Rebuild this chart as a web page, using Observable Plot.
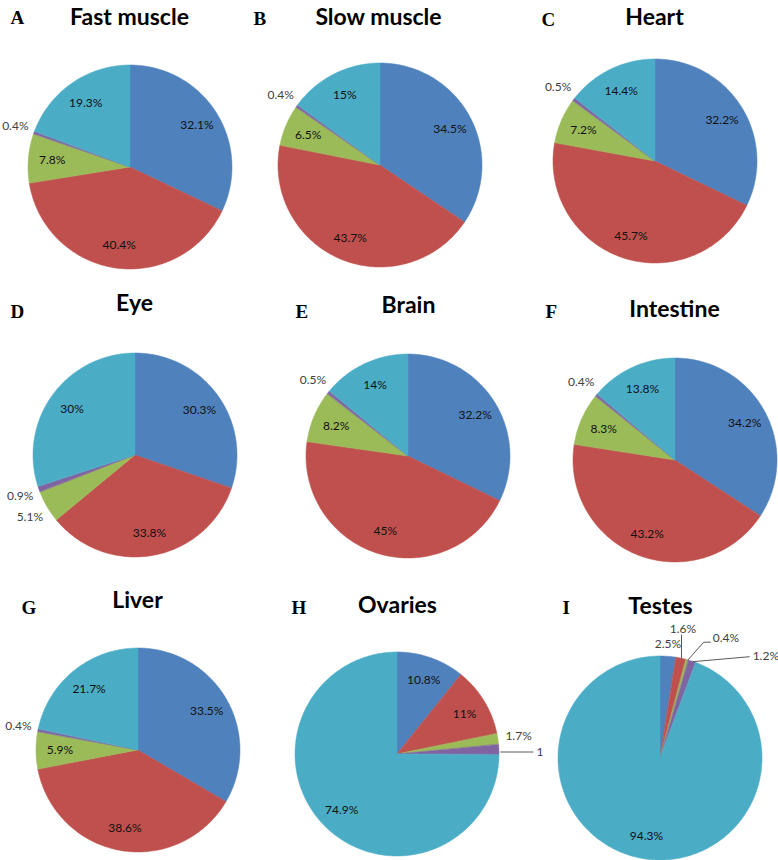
<!DOCTYPE html>
<html><head><meta charset="utf-8">
<script src="https://cdn.jsdelivr.net/npm/d3@7"></script>
<script src="https://cdn.jsdelivr.net/npm/@observablehq/plot@0.6"></script>
<style>
body{margin:0;background:#fff;}
#fig{position:relative;width:778px;height:860px;overflow:hidden;background:#fff;}
.panel{position:absolute;}
.panel svg{display:block;overflow:visible;background:transparent;}
</style></head><body><div id="fig"></div>
<script>
// ---- data ----
const categories = ["Series 1", "Series 2", "Series 3", "Series 4", "Series 5"];
const colors = ["#4F81BD", "#C0504D", "#9BBB59", "#8064A2", "#4BACC6"];
const tissues = ["Fast muscle", "Slow muscle", "Heart", "Eye", "Brain", "Intestine", "Liver", "Ovaries", "Testes"];
const panelLetters = ["A", "B", "C", "D", "E", "F", "G", "H", "I"];
const fastMuscle = [32.1, 40.4, 7.8, 0.4, 19.3];
const slowMuscle = [34.5, 43.7, 6.5, 0.4, 15];
const heart      = [32.2, 45.7, 7.2, 0.5, 14.4];
const eye        = [30.3, 33.8, 5.1, 0.9, 30];
const brain      = [32.2, 45, 8.2, 0.5, 14];
const intestine  = [34.2, 43.2, 8.3, 0.4, 13.8];
const liver      = [33.5, 38.6, 5.9, 0.4, 21.7];
const ovaries    = [10.8, 11, 1.7, 1.6, 74.9];
const testes     = [2.5, 1.6, 0.4, 1.2, 94.3];
const seriesValues = [fastMuscle, slowMuscle, heart, eye, brain, intestine, liver, ovaries, testes];
// label text of the Ovaries 4th slice is cut to "1" in the original
const labelOverrides = {"Ovaries": {3: "1"}};

// ---- layout (page pixels) ----
const R = 102;
const colX = [0, 259, 519], colW = [259, 260, 259];
const rowY = [0, 285, 578], rowH = [285, 293, 282];
const layout = [
  {c: [130, 167], title: [129, 24], letter: [10, 23]},
  {c: [380, 165], title: [378, 24], letter: [253, 24]},
  {c: [655, 161], title: [654, 24], letter: [541, 25]},
  {c: [135, 455], title: [134, 310], letter: [10, 317]},
  {c: [408, 456], title: [408, 312], letter: [295, 317]},
  {c: [675, 460], title: [674, 316], letter: [545, 317]},
  {c: [138, 750], title: [137, 607], letter: [21, 613]},
  {c: [397, 754], title: [397, 612], letter: [291, 613]},
  {c: [660, 758], title: [660, 613], letter: [562, 613]}
];
// callouts: pixel offsets from the slice's outer mid-point
const callouts = {
  "Ovaries": {3: {path: [[1, 2], [34, 2]], text: [37, 2], anchor: "start"}},
  "Testes": {
    0: {path: null, text: [-0.5, -13], anchor: "middle"},
    1: {path: [[0, 0], [0, -24]], text: [1.5, -30], anchor: "middle"},
    2: {path: [[0, 0], [16, -18], [23, -18]], text: [25, -22], anchor: "start"},
    3: {path: [[0, 0], [57, -5]], text: [60, -6], anchor: "start"}
  }
};
const inRadius = 0.77, outRadius = 1.2;
const fontFamily = "Lato, 'Open Sans', sans-serif";

const fig = document.getElementById("fig");

tissues.forEach((tissue, i) => {
  const values = seriesValues[i];
  const L = layout[i];
  const col = i % 3, row = Math.floor(i / 3);
  const x0 = colX[col], y0 = rowY[row], w = colW[col], h = rowH[row];
  const pcx = L.c[0] - x0, pcy = L.c[1] - y0;
  const total = d3.sum(values);
  let acc = 0;
  const slices = values.map((v, j) => {
    const a0 = acc / total * 2 * Math.PI; acc += v;
    const a1 = acc / total * 2 * Math.PI;
    const ov = labelOverrides[tissue] && labelOverrides[tissue][j];
    return {cat: categories[j], value: v, a0, a1, mid: (a0 + a1) / 2, label: ov ?? `${v}%`, idx: j};
  });
  const arcPts = slices.flatMap(s => {
    const n = Math.max(2, Math.ceil((s.a1 - s.a0) / (Math.PI / 180)));
    return d3.range(n + 1).map(k => {
      const a = s.a0 + (s.a1 - s.a0) * k / n;
      return {cat: s.cat, x: Math.sin(a), y: Math.cos(a)};
    });
  });
  const co = callouts[tissue] || {};
  const inside = [], outside = [], calloutText = [], leaders = [];
  slices.forEach(s => {
    const ex = Math.sin(s.mid), ey = Math.cos(s.mid);
    if (co[s.idx]) {
      const c = co[s.idx];
      calloutText.push({x: ex + c.text[0] / R, y: ey - c.text[1] / R, label: s.label, anchor: c.anchor});
      if (c.path) c.path.forEach(p => leaders.push({k: s.idx, x: ex + p[0] / R, y: ey - p[1] / R}));
    } else if (s.value >= 5.5) {
      inside.push({x: inRadius * ex, y: inRadius * ey, label: s.label});
    } else {
      outside.push({x: outRadius * ex, y: outRadius * ey, label: s.label});
    }
  });
  const plot = Plot.plot({
    width: w, height: h,
    margin: 0,
    x: {domain: [-1, 1], range: [pcx - R, pcx + R], axis: null},
    y: {domain: [-1, 1], range: [pcy + R, pcy - R], axis: null},
    color: {domain: categories, range: colors},
    style: {fontFamily, background: "transparent", overflow: "visible"},
    marks: [
      Plot.area(arcPts, {x1: d => 0, y1: d => 0, x2: "x", y2: "y", z: "cat", fill: "cat", stroke: "cat", strokeWidth: 0.5}),
      Plot.line(leaders, {x: "x", y: "y", z: "k", stroke: "#595959", strokeWidth: 1, strokeLinecap: "butt"}),
      Plot.text(inside, {x: "x", y: "y", text: "label", fontSize: 12, fill: "#111", fontFamily}),
      Plot.text(outside, {x: "x", y: "y", text: "label", fontSize: 12, fill: "#404040", fontFamily}),
      Plot.text(calloutText.filter(d => d.anchor === "start"), {x: "x", y: "y", text: "label", textAnchor: "start", fontSize: 12, fill: "#404040", fontFamily}),
      Plot.text(calloutText.filter(d => d.anchor === "middle"), {x: "x", y: "y", text: "label", textAnchor: "middle", fontSize: 12, fill: "#404040", fontFamily}),
      Plot.text([tissue], {frameAnchor: "top-left", dx: L.title[0] - x0, dy: L.title[1] - y0, text: d => d, textAnchor: "middle", lineAnchor: "bottom", fontSize: 23, fontWeight: "bold", fill: "#000", fontFamily}),
      Plot.text([panelLetters[i]], {frameAnchor: "top-left", dx: L.letter[0] - x0, dy: L.letter[1] - y0, text: d => d, textAnchor: "start", lineAnchor: "bottom", fontSize: 19, fontWeight: "bold", fill: "#000", fontFamily: "'Liberation Serif', 'Times New Roman', serif"})
    ]
  });
  const div = document.createElement("div");
  div.className = "panel";
  div.style.left = x0 + "px"; div.style.top = y0 + "px";
  div.style.width = w + "px"; div.style.height = h + "px";
  div.appendChild(plot);
  fig.appendChild(div);
});
</script></body></html>
